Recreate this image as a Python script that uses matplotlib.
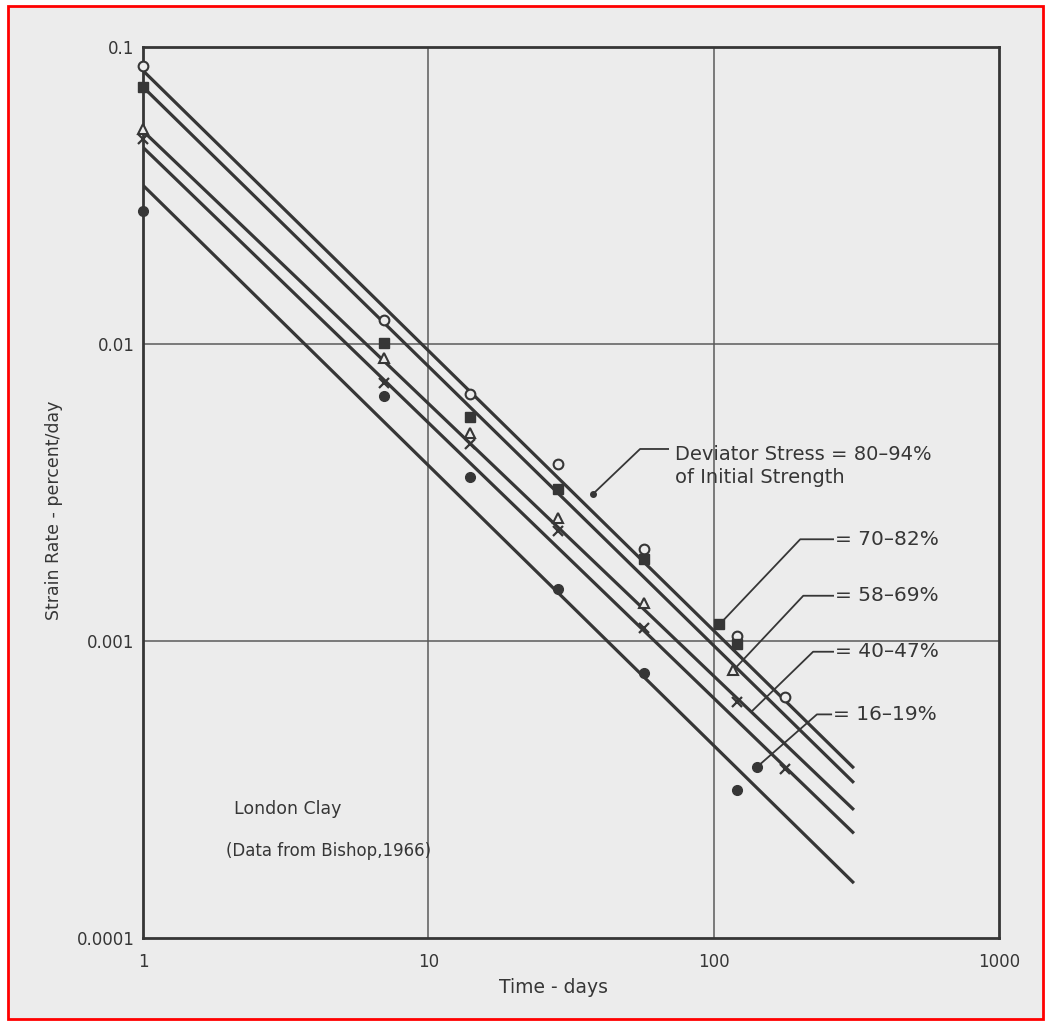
import matplotlib
matplotlib.use("Agg")
import matplotlib.pyplot as plt
from matplotlib.patches import Rectangle

# fitted creep lines, drawn between t = 1 day and t = 310 days
line_t = [1, 310]
line_a = [0.0832, 3.73e-4]   # 80-94 %
line_b = [0.0733, 3.33e-4]   # 70-82 %
line_c = [0.0521, 2.70e-4]   # 58-69 %
line_d = [0.0459, 2.25e-4]   # 40-47 %
line_e = [0.0342, 1.53e-4]   # 16-19 %

# measured points (Bishop, 1966)
t_a = [1, 7, 14, 28.5, 57, 121, 178]
r_a = [0.0862, 0.0120, 0.00679, 0.00395, 0.00204, 0.00104, 6.5e-4]
t_b = [1, 7, 14, 28.5, 57, 104, 121]
r_b = [0.0733, 0.01006, 0.00568, 0.00325, 0.00189, 0.00114, 9.76e-4]
t_c = [1, 7, 14, 28.5, 57, 117]
r_c = [0.0528, 0.00897, 0.00501, 0.0026, 0.00134, 7.96e-4]
t_d = [1, 7, 14, 28.5, 57, 121, 178]
r_d = [0.049, 0.0074, 0.0046, 0.00234, 0.00111, 6.24e-4, 3.71e-4]
t_e = [1, 7, 14, 28.5, 57, 121, 142]
r_e = [0.028, 0.00668, 0.00356, 0.0015, 7.83e-4, 3.15e-4, 3.77e-4]

x_ticks = [1, 10, 100, 1000]
x_ticklabels = ["1", "10", "100", "1000"]
y_ticks = [0.0001, 0.001, 0.01, 0.1]
y_ticklabels = ["0.0001", "0.001", "0.01", "0.1"]

ink = "#363636"
paper = "#ececec"

fig = plt.figure(figsize=(10.48, 10.23), dpi=100)
fig.patch.set_facecolor("white")
fig.add_artist(Rectangle((8 / 1048, 4 / 1023), 1035 / 1048, 1013 / 1023,
                         transform=fig.transFigure, facecolor=paper,
                         edgecolor="red", lw=2, zorder=-10))

ax = fig.add_axes([0.1365, 0.0831, 0.8168, 0.8710])
ax.set_facecolor(paper)
ax.set_xscale("log")
ax.set_yscale("log")
ax.set_xlim(1, 1000)
ax.set_ylim(0.0001, 0.1)

for v in [10, 100]:
    ax.axvline(v, color="#5a5a5a", lw=1.1, zorder=1)
for v in [0.01, 0.001]:
    ax.axhline(v, color="#5a5a5a", lw=1.1, zorder=1)

for ln in [line_a, line_b, line_c, line_d, line_e]:
    ax.plot(line_t, ln, color=ink, lw=2.3, zorder=3, solid_capstyle="butt")

ms = 7
ax.plot(t_a, r_a, "o", ms=ms, mfc=paper, mec=ink, mew=1.5, zorder=4, clip_on=False)
ax.plot(t_b, r_b, "s", ms=ms, mfc=ink, mec=ink, zorder=4, clip_on=False)
ax.plot(t_c, r_c, "^", ms=ms, mfc=paper, mec=ink, mew=1.5, zorder=4, clip_on=False)
ax.plot(t_d, r_d, "x", ms=ms, mec=ink, mew=1.6, zorder=4, clip_on=False)
ax.plot(t_e, r_e, "o", ms=ms, mfc=ink, mec=ink, zorder=4, clip_on=False)

# leader lines from the labels to the curves
leaders = [
    ([69.2, 55.2, 37.8], [0.00443, 0.00443, 0.00313]),
    ([262, 201, 105], [0.0022, 0.0022, 0.00114]),
    ([262, 206, 117], [0.00142, 0.00142, 7.96e-4]),
    ([262, 223, 136], [9.2e-4, 9.2e-4, 5.8e-4]),
    ([258, 230, 142], [5.66e-4, 5.66e-4, 3.77e-4]),
]
for lx, ly in leaders:
    ax.plot(lx, ly, color=ink, lw=1.3, zorder=3)
ax.plot([37.8], [0.00313], "o", ms=4, color=ink, zorder=4)

fs = 14
ax.text(73.3, 0.00388, "Deviator Stress = 80–94%\nof Initial Strength",
        ha="left", va="center", fontsize=fs, color=ink, linespacing=1.3)
ax.text(266, 0.0022, "= 70–82%", ha="left", va="center", fontsize=14.5, color=ink)
ax.text(266, 0.00142, "= 58–69%", ha="left", va="center", fontsize=14.5, color=ink)
ax.text(266, 9.2e-4, "= 40–47%", ha="left", va="center", fontsize=14.5, color=ink)
ax.text(262, 5.66e-4, "= 16–19%", ha="left", va="center", fontsize=14.5, color=ink)
ax.text(2.08, 2.72e-4, "London Clay", ha="left", va="center", fontsize=12.5, color=ink)
ax.text(1.95, 1.96e-4, "(Data from Bishop,1966)", ha="left", va="center",
        fontsize=12, color=ink)

ax.set_xticks(x_ticks)
ax.set_xticklabels(x_ticklabels)
ax.set_yticks(y_ticks)
ax.set_yticklabels(y_ticklabels)
ax.minorticks_off()
ax.tick_params(axis="both", length=0, labelsize=12, labelcolor=ink)
ax.tick_params(axis="x", pad=11)
ax.tick_params(axis="y", pad=6)

for sp in ax.spines.values():
    sp.set_color(ink)
    sp.set_linewidth(2)

ax.set_xlabel("Time - days", fontsize=13.5, color=ink)
ax.xaxis.set_label_coords(0.479, -0.045)
ax.set_ylabel("Strain Rate - percent/day", fontsize=12.5, color=ink)
ax.yaxis.set_label_coords(-0.093, 0.48)

fig.savefig("out.png", dpi=100, facecolor=fig.get_facecolor())
